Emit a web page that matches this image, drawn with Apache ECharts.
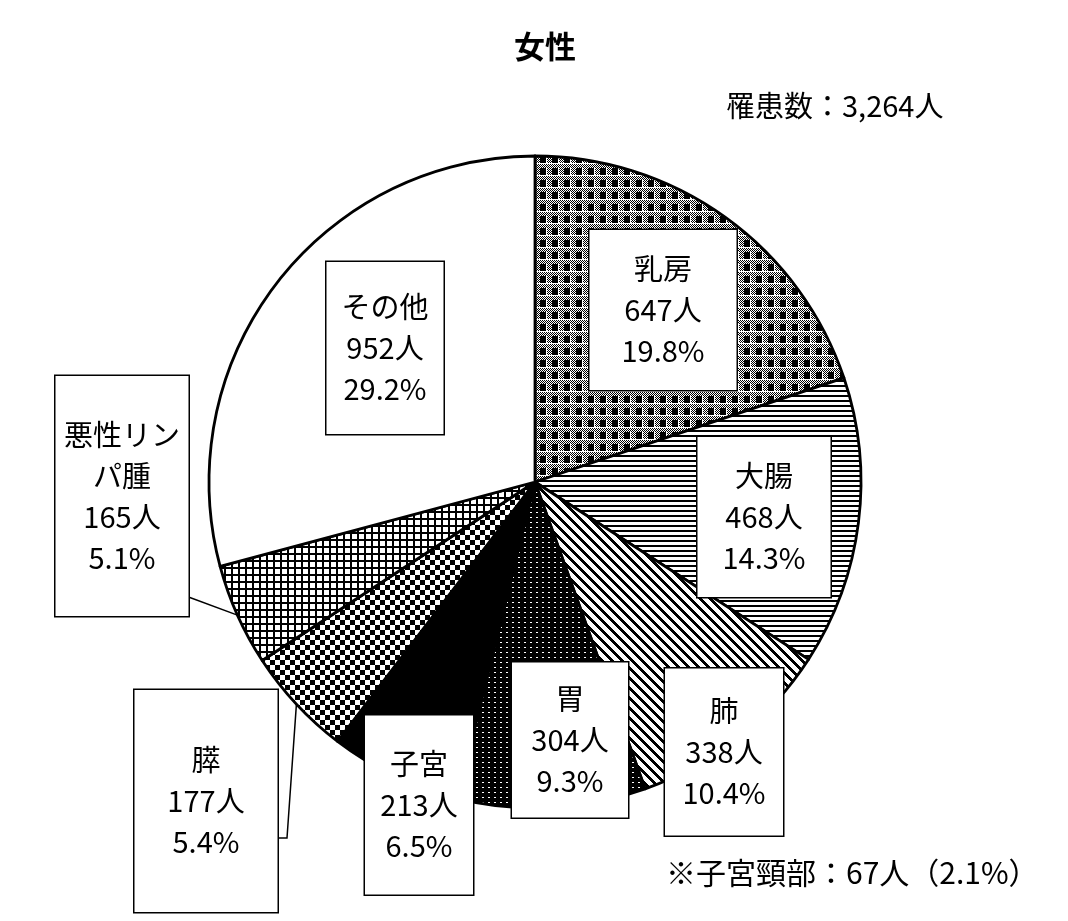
<!DOCTYPE html>
<html>
<head>
<meta charset="utf-8">
<script src="https://cdn.jsdelivr.net/npm/echarts@6/dist/echarts.min.js"></script>
<style>
html,body{margin:0;padding:0;background:#fff;}
#main{width:1068px;height:921px;}
</style>
</head>
<body>
<div id="main"></div>
<script>
// データ
var siteNames = ['乳房','大腸','肺','胃','子宮','膵','悪性リンパ腫','その他'];
var patientCounts = [647,468,338,304,213,177,165,952];
var chartTitle = '女性';
var totalText = '罹患数：3,264人';
var noteText = '※子宮頸部：67人（2.1%）';

var FONT = '"Noto Sans CJK JP","Noto Sans",sans-serif';
var LINE_H = 41;

// 網掛けパターン
function makeTile(w,h,paint){
	var c = document.createElement('canvas');
	c.width = w; c.height = h;
	var ctx = c.getContext('2d');
	ctx.fillStyle = '#fff';
	ctx.fillRect(0,0,w,h);
	ctx.fillStyle = '#000';
	paint(ctx,w,h);
	return {image:c, repeat:'repeat'};
}
function dots(ctx,x0,y0,x1,y1){
	for(var y=y0;y<y1;y++){
		for(var x=x0;x<x1;x++){
			if((x+y)%2==0) ctx.fillRect(x,y,1,1);
		}
	}
}

var FILLS = [
	makeTile(12,12,function(ctx){
		ctx.fillRect(0,0,6,7);
		dots(ctx,7,0,12,7);
		dots(ctx,0,8,12,12);
	}),
	makeTile(4,5,function(ctx){ ctx.fillRect(0,0,4,2); }),
	makeTile(10,10,function(ctx){
		for(var y=0;y<10;y++){
			for(var x=0;x<10;x++){
				if(((x-y)%10+10)%10<4) ctx.fillRect(x,y,1,1);
			}
		}
	}),
	makeTile(6,5,function(ctx,w,h){
		ctx.fillRect(0,0,w,h);
		ctx.fillStyle = '#fff';
		ctx.fillRect(2,2,2,1);
	}),
	'#000',
	makeTile(10,10,function(ctx){
		ctx.fillRect(0,0,5,5);
		ctx.fillRect(5,5,5,5);
	}),
	makeTile(7,7,function(ctx){
		ctx.fillRect(0,0,7,2);
		ctx.fillRect(0,0,2,7);
	}),
	'#fff'
];

// ラベル枠 (中心x, 中心y, 幅, 高さ)
var labelBoxes = [
	[663,310,147,160],
	[764,517,133,160],
	[724,752,118,167],
	[570,740,116,155],
	[419,805,108,179],
	[206,801,143,222],
	[122,496,133,240],
	[385,348,117,172]
];

function splitName(name){
	return name.length > 4 ? name.slice(0,4) + '\n' + name.slice(4) : name;
}

var pieData = [];
for(var i = 0; i < siteNames.length; i++){
	var b = labelBoxes[i];
	var lines = splitName(siteNames[i]).split('\n').length + 2;
	var padV = (b[3] - lines*LINE_H)/2;
	pieData.push({
		name: siteNames[i],
		value: patientCounts[i],
		itemStyle: {color: FILLS[i]},
		label: {width: b[2], padding: [padV,0,padV,0]},
		labelLine: {show: i == 5 || i == 6}
	});
}

var myChart = echarts.init(document.getElementById('main'), null, {renderer:'canvas'});
myChart.setOption({
	animation: false,
	backgroundColor: '#fff',
	graphic: [
		{type:'text', x:545, y:46, style:{text:chartTitle, font:'bold 31px '+FONT, fill:'#000', align:'center', verticalAlign:'middle', textAlign:'center', textVerticalAlign:'middle'}},
		{type:'text', x:726, y:106, style:{text:totalText, font:'29px '+FONT, fill:'#000', align:'left', verticalAlign:'middle', textAlign:'left', textVerticalAlign:'middle'}},
		{type:'text', x:666, y:873, style:{text:noteText, font:'30px '+FONT, fill:'#000', align:'left', verticalAlign:'middle', textAlign:'left', textVerticalAlign:'middle'}}
	],
	series: [{
		type: 'pie',
		center: [535, 482],
		radius: 326,
		startAngle: 90,
		clockwise: true,
		percentPrecision: 1,
		avoidLabelOverlap: false,
		emphasis: {disabled: true, scale: false},
		itemStyle: {borderColor:'#000', borderWidth:2.8},
		label: {
			show: true,
			position: 'outside',
			color: '#000',
			fontFamily: FONT,
			fontSize: 29,
			lineHeight: LINE_H,
			backgroundColor: '#fff',
			borderColor: '#000',
			borderWidth: 1.5,
			formatter: function(p){
				return splitName(p.name) + '\n' + p.value + '人\n' + p.percent.toFixed(1) + '%';
			}
		},
		labelLine: {
			show: false,
			lineStyle: {color:'#000', width:1.5}
		},
		labelLayout: function(p){
			var b = labelBoxes[p.dataIndex];
			var out = {x:b[0], y:b[1], align:'center', verticalAlign:'middle', hideOverlap:false};
			var pts = p.labelLinePoints;
			if(pts && p.dataIndex == 6){
				out.labelLinePoints = [pts[0], [b[0]+b[2]/2, 597]];
			}
			if(pts && p.dataIndex == 5){
				out.labelLinePoints = [pts[0], [287,838], [b[0]+b[2]/2, 838]];
			}
			return out;
		},
		data: pieData
	}]
});
</script>
</body>
</html>
